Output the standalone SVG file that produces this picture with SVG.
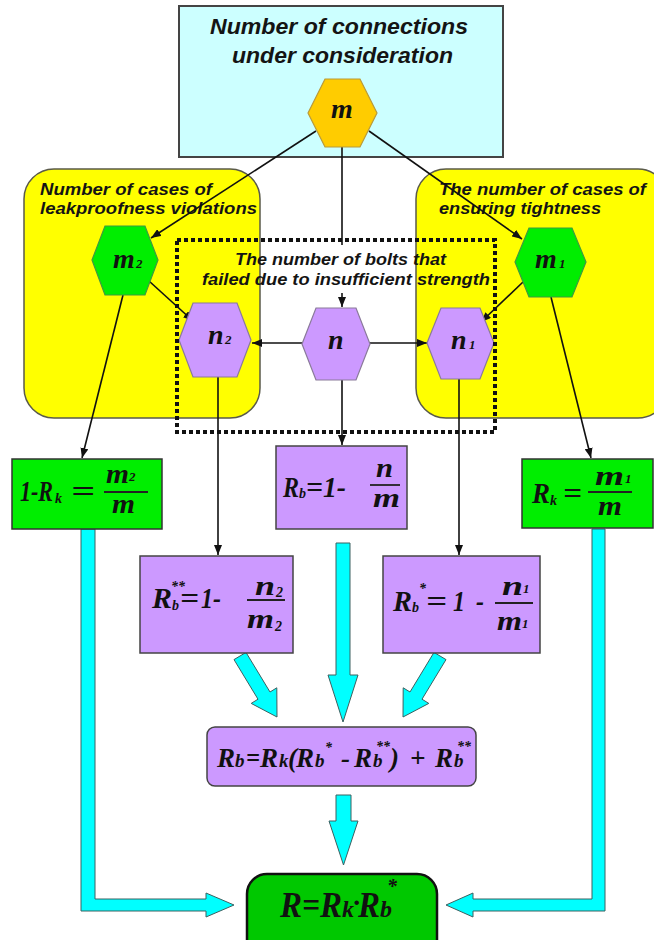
<svg xmlns="http://www.w3.org/2000/svg" width="654" height="940" viewBox="0 0 654 940">
<defs>
<style>
.lbl{font-family:"Liberation Sans",Arial,sans-serif;font-weight:bold;font-style:italic;fill:#141414}
.f{font-family:"Liberation Serif","Times New Roman",serif;font-weight:bold;font-style:italic;fill:#111}
.hexm{fill:#ffcc00;stroke:#b89a3a;stroke-width:1.2}
.hexg{fill:#00ee00;stroke:#3f9a3f;stroke-width:1.2}
.hexp{fill:#cc99ff;stroke:#8a7a9a;stroke-width:1.2}
.yel{fill:#ffff00;stroke:#5a5a4a;stroke-width:1.5}
.gbox{fill:#00ee00;stroke:#333;stroke-width:1.5}
.pbox{fill:#cc99ff;stroke:#444;stroke-width:1.5}
.cy{fill:#00ffff;stroke:#3d6060;stroke-width:1}
.ln{stroke:#111;stroke-width:1.6;fill:none}
.bar{stroke:#222;stroke-width:1.8}
</style>
<marker id="ah" markerWidth="10" markerHeight="8" refX="10" refY="4" orient="auto" markerUnits="userSpaceOnUse">
<path d="M0,0 L10,4 L0,8 z" fill="#111"/>
</marker>
</defs>
<rect width="654" height="940" fill="#ffffff"/>

<g id="top-box">
<rect x="179" y="6" width="324" height="151" fill="#ccffff" stroke="#444" stroke-width="2"/>
<text class="lbl" font-size="22"><tspan x="210" y="34" textLength="258" lengthAdjust="spacingAndGlyphs">Number of connections</tspan><tspan x="232" y="63" textLength="221" lengthAdjust="spacingAndGlyphs">under consideration</tspan></text>
</g>

<g id="left-group">
<rect class="yel" x="24" y="169" width="236" height="249" rx="30"/>
<text class="lbl" font-size="16"><tspan x="40" y="195" textLength="172" lengthAdjust="spacingAndGlyphs">Number of cases of</tspan><tspan x="40" y="214" textLength="217" lengthAdjust="spacingAndGlyphs">leakproofness violations</tspan></text>
</g>

<g id="right-group">
<rect class="yel" x="416" y="169" width="252" height="249" rx="30"/>
<text class="lbl" font-size="16"><tspan x="439" y="195" textLength="207" lengthAdjust="spacingAndGlyphs">The number of cases of</tspan><tspan x="439" y="214" textLength="162" lengthAdjust="spacingAndGlyphs">ensuring tightness</tspan></text>
</g>

<g id="cyan-arrows">
<polygon class="cy" points="81,529 95,529 95,899 206,899 206,893 234,905 206,917 206,911 81,911"/>
<polygon class="cy" points="592,529 605,529 605,911 473,911 473,917 446,905 473,893 473,899 592,899"/>
<polygon class="cy" points="336,543 350,543 350,675 358,675 343,722 328,675 336,675"/>
<polygon class="cy" points="234,659.6 246,652.4 270,692 276.8,687.8 277,717 251.2,703.4 258,699.2"/>
<polygon class="cy" points="446,659.6 434,652.4 410,692 403.2,687.8 403,717 428.8,703.4 422,699.2"/>
<polygon class="cy" points="336,795 351,795 351,821 358,821 343.5,865 329,821 336,821"/>
</g>

<g id="connectors">
<line class="ln" x1="316" y1="131" x2="151" y2="238" stroke-width="2.2" marker-end="url(#ah)"/>
<line class="ln" x1="342" y1="147" x2="342" y2="245"/>
<line class="ln" x1="342" y1="293" x2="342" y2="307" marker-end="url(#ah)"/>
<line class="ln" x1="369" y1="131" x2="522" y2="239" stroke-width="2.2" marker-end="url(#ah)"/>
<line class="ln" x1="149" y1="281" x2="193" y2="321" marker-end="url(#ah)"/>
<line class="ln" x1="523" y1="282" x2="481" y2="322" marker-end="url(#ah)"/>
<line class="ln" x1="302" y1="343" x2="252" y2="343" marker-end="url(#ah)"/>
<line class="ln" x1="370" y1="343" x2="427" y2="343" marker-end="url(#ah)"/>
<line class="ln" x1="123" y1="295" x2="82" y2="458" marker-end="url(#ah)"/>
<line class="ln" x1="218" y1="377" x2="218" y2="555" marker-end="url(#ah)"/>
<line class="ln" x1="342" y1="380" x2="342" y2="445" marker-end="url(#ah)"/>
<line class="ln" x1="459" y1="379" x2="459" y2="555" marker-end="url(#ah)"/>
<line class="ln" x1="551" y1="297" x2="591" y2="458" marker-end="url(#ah)"/>
</g>

<g id="node-m">
<polygon class="hexm" points="308,113 325,79 360,79 377,113 360,147 325,147"/>
<text class="f" x="342" y="118" font-size="28" text-anchor="middle">m</text>
</g>

<g id="node-m2">
<polygon class="hexg" points="92,260 105,226 145,226 158,260 145,295 105,295"/>
<text class="f" font-size="28"><tspan x="113" y="268">m</tspan><tspan x="136" y="268" font-size="13">2</tspan></text>
</g>

<g id="node-m1">
<polygon class="hexg" points="515,262 529,228 572,228 586,262 572,297 529,297"/>
<text class="f" font-size="28"><tspan x="535" y="268">m</tspan><tspan x="559" y="268" font-size="13">1</tspan></text>
</g>

<g id="node-n2">
<polygon class="hexp" points="179,340 193,303 237,303 251,340 237,377 193,377"/>
<text class="f" font-size="28"><tspan x="208" y="344">n</tspan><tspan x="225" y="344" font-size="13">2</tspan></text>
</g>

<g id="node-n">
<polygon class="hexp" points="302,344 316,308 356,308 370,344 356,380 316,380"/>
<text class="f" x="328" y="349" font-size="28">n</text>
</g>

<g id="node-n1">
<polygon class="hexp" points="427,343 441,308 480,308 494,343 480,379 441,379"/>
<text class="f" font-size="28"><tspan x="451" y="349">n</tspan><tspan x="469" y="349" font-size="13">1</tspan></text>
</g>

<g id="bolts-group">
<rect x="177" y="240" width="318" height="192" fill="none" stroke="#111" stroke-width="4" stroke-dasharray="4 3"/>
<text class="lbl" font-size="16"><tspan x="235" y="265" textLength="211" lengthAdjust="spacingAndGlyphs">The number of bolts that</tspan><tspan x="202" y="285" textLength="288" lengthAdjust="spacingAndGlyphs">failed due to insufficient strength</tspan></text>
</g>

<g id="box-1-Rk">
<rect class="gbox" x="12" y="459" width="150" height="70"/>
<line class="bar" x1="104" y1="492" x2="148" y2="492"/>
<text class="f" font-size="30"><tspan x="20" y="501" textLength="33" lengthAdjust="spacingAndGlyphs">1-R</tspan><tspan x="55" y="503" font-size="14">k</tspan><tspan x="71" y="501" textLength="24" lengthAdjust="spacingAndGlyphs">=</tspan><tspan x="106" y="483" font-size="28" textLength="23" lengthAdjust="spacingAndGlyphs">m</tspan><tspan x="129" y="481" font-size="13">2</tspan><tspan x="112" y="513" font-size="28" textLength="23" lengthAdjust="spacingAndGlyphs">m</tspan></text>
</g>

<g id="box-Rb">
<rect class="pbox" x="276" y="446" width="131" height="83"/>
<line class="bar" x1="370" y1="485" x2="400" y2="485"/>
<text class="f" font-size="30"><tspan x="283" y="497" textLength="16" lengthAdjust="spacingAndGlyphs">R</tspan><tspan x="299" y="498" font-size="14">b</tspan><tspan x="306" y="497" textLength="17" lengthAdjust="spacingAndGlyphs">=</tspan><tspan x="323" y="497" textLength="23" lengthAdjust="spacingAndGlyphs">1-</tspan><tspan x="376" y="477" font-size="28" textLength="17" lengthAdjust="spacingAndGlyphs">n</tspan><tspan x="373" y="507" font-size="28" textLength="27" lengthAdjust="spacingAndGlyphs">m</tspan></text>
</g>

<g id="box-Rk">
<rect class="gbox" x="522" y="459" width="131" height="69"/>
<line class="bar" x1="588" y1="492" x2="632" y2="492"/>
<text class="f" font-size="30"><tspan x="532" y="503" textLength="18" lengthAdjust="spacingAndGlyphs">R</tspan><tspan x="550" y="505" font-size="14">k</tspan><tspan x="563" y="503" textLength="19" lengthAdjust="spacingAndGlyphs">=</tspan><tspan x="595" y="485" font-size="28" textLength="29" lengthAdjust="spacingAndGlyphs">m</tspan><tspan x="625" y="483" font-size="13">1</tspan><tspan x="598" y="515" font-size="28" textLength="24" lengthAdjust="spacingAndGlyphs">m</tspan></text>
</g>

<g id="box-Rb2">
<rect class="pbox" x="140" y="556" width="153" height="97"/>
<line class="bar" x1="247" y1="600" x2="285" y2="600"/>
<text class="f" font-size="30"><tspan x="152" y="608" textLength="20" lengthAdjust="spacingAndGlyphs">R</tspan><tspan x="172" y="610" font-size="14">b</tspan><tspan x="171" y="591" font-size="14">**</tspan><tspan x="180" y="608" textLength="19" lengthAdjust="spacingAndGlyphs">=</tspan><tspan x="201" y="608" textLength="20" lengthAdjust="spacingAndGlyphs">1-</tspan><tspan x="255" y="595" font-size="28" textLength="20" lengthAdjust="spacingAndGlyphs">n</tspan><tspan x="276" y="597" font-size="14">2</tspan><tspan x="247" y="628" font-size="28" textLength="27" lengthAdjust="spacingAndGlyphs">m</tspan><tspan x="275" y="631" font-size="14">2</tspan></text>
</g>

<g id="box-Rb1">
<rect class="pbox" x="383" y="556" width="157" height="97"/>
<line class="bar" x1="495" y1="603" x2="533" y2="603"/>
<text class="f" font-size="30"><tspan x="393" y="611" textLength="19" lengthAdjust="spacingAndGlyphs">R</tspan><tspan x="412" y="612" font-size="14">b</tspan><tspan x="419" y="593" font-size="14">*</tspan><tspan x="426" y="611" textLength="21" lengthAdjust="spacingAndGlyphs">=</tspan><tspan x="453" y="611" textLength="12" lengthAdjust="spacingAndGlyphs">1</tspan><tspan x="476" y="611" textLength="8" lengthAdjust="spacingAndGlyphs">-</tspan><tspan x="502" y="595" font-size="28" textLength="21" lengthAdjust="spacingAndGlyphs">n</tspan><tspan x="523" y="593" font-size="13">1</tspan><tspan x="497" y="630" font-size="28" textLength="25" lengthAdjust="spacingAndGlyphs">m</tspan><tspan x="522" y="628" font-size="13">1</tspan></text>
</g>

<g id="box-combined">
<rect class="pbox" x="207" y="727" width="269" height="59" rx="8"/>
<text class="f" font-size="27"><tspan x="217" y="767">R</tspan><tspan x="235" y="767" font-size="19">b</tspan><tspan x="246" y="767" textLength="14" lengthAdjust="spacingAndGlyphs">=</tspan><tspan x="260" y="767">R</tspan><tspan x="279" y="767" font-size="19">k</tspan><tspan x="288" y="767">(</tspan><tspan x="296" y="767">R</tspan><tspan x="315" y="767" font-size="19">b</tspan><tspan x="325" y="752" font-size="14">*</tspan><tspan x="341" y="767">-</tspan><tspan x="354" y="767">R</tspan><tspan x="373" y="767" font-size="19">b</tspan><tspan x="376" y="751" font-size="14">**</tspan><tspan x="390" y="767">)</tspan><tspan x="410" y="767">+</tspan><tspan x="435" y="767">R</tspan><tspan x="454" y="767" font-size="19">b</tspan><tspan x="457" y="751" font-size="14">**</tspan></text>
</g>

<g id="box-final">
<rect x="247" y="874" width="190" height="100" rx="20" fill="#00c800" stroke="#111" stroke-width="2.5"/>
<text class="f" font-size="36"><tspan x="280" y="917" textLength="22" lengthAdjust="spacingAndGlyphs">R</tspan><tspan x="302" y="917" textLength="18" lengthAdjust="spacingAndGlyphs">=</tspan><tspan x="320" y="917" textLength="22" lengthAdjust="spacingAndGlyphs">R</tspan><tspan x="342" y="917" font-size="24">k</tspan><tspan x="353" y="912" font-size="28">·</tspan><tspan x="358" y="917" textLength="22" lengthAdjust="spacingAndGlyphs">R</tspan><tspan x="380" y="917" font-size="24">b</tspan><tspan x="387" y="893" font-size="20">*</tspan></text>
</g>
</svg>
